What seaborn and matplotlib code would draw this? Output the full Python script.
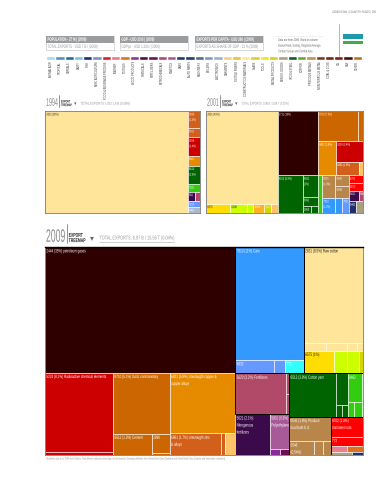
# Uzbekistan country page: export treemaps 1994 / 2001 / 2009
import matplotlib
matplotlib.use('Agg')
import matplotlib.pyplot as plt
import matplotlib.patheffects as pe
from matplotlib.patches import Rectangle
from matplotlib.transforms import Affine2D, Bbox
import pandas as pd
import seaborn as sns

sns.set_theme(style='white')
plt.rcParams['font.family'] = ['Liberation Sans', 'DejaVu Sans']

W, H = 387, 480

# colours of the product groups
DARK = '#2e0000'; YEL = '#ffe599'; GOLD = '#ffdd00'; LIME = '#ccff00'; OLV = '#d4d400'
PORG = '#ffc266'; AMB = '#ffb020'; BRN = '#cc6600'; ORG = '#e68a00'; RUST = '#d2601a'
RED = '#cc0000'; BRED = '#ff0000'; GRN = '#006400'; BGRN = '#33cc11'; TAN = '#b8864b'
BLUE = '#3399ff'; PERI = '#6699ff'; CYAN = '#33ffff'; ROSE = '#b04a68'; PUR = '#3a0a4a'
MAUV = '#a85a98'; VIO = '#8a2a9a'; PLUM = '#6a1050'; NAVY = '#20306a'; GRAY = '#a8a080'
PINK = '#e88090'; HOR = '#e07020'; LGB = '#a8b8d0'

# colour key
key_labels = ['ANIMAL AGRI', 'TROPICAL', 'CEREALS', 'DAIRY', 'FISH', 'MISC AGRICULTURE',
              'FOOD & BEVERAGE PROCESS', 'LEATHER', 'TEXTILES', 'WOOD PRODUCTS',
              'CHEMICALS', 'FERTILIZERS', 'PETROCHEMICALS', 'PLASTICS', 'CARS',
              'AUTO PARTS', 'MACHINERY', 'BOILERS', 'ELECTRONICS', 'GARMENTS',
              'TEXTILE FIBERS', 'CONSTRUCTION MATERIALS', 'GLASS', 'TOOLS', 'METAL PRODUCTS',
              'MINING GOODS', 'IRON & STEEL', 'COPPER', 'PRECIOUS METALS', 'NON-FERROUS METAL',
              'COAL & COKE', 'OIL', 'GAS', 'OTHER']
key_colors = ['#a8d8e8', '#5590c0', '#1a70a0', '#7fc4d8', '#1f2a78', '#7a90c8', '#d02030',
              '#e87888', '#e07020', '#8a3a8a', '#4a1048', '#6a1050', '#b04a6a', '#a85a98',
              '#203a70', '#203a70', '#586888', '#8890c8', '#98b0c8', '#f8d070', '#f0c030',
              '#fde59a', '#d8d030', '#f8e020', '#d0d020', '#a8a080', '#0a5a30', '#60a830',
              '#c09050', '#704020', '#802010', '#7a2018', '#401010', '#c07020']
key_values = [1] * len(key_labels)

# 1994
labels_1994 = ['2631 (92%)', '2630\n(1.3%)', '0511', '2816\n(1.4%)', '6821', '6513\n(1.5%)', '7821',
               '562', '', '7810', '8462']
values_1994 = [92, 1.33, .73, 1.44, .78, 1.46, .58, .42, .31, .47, .47]
colors_1994 = [YEL, RUST, RUST, RED, ORG, GRN, BGRN, PUR, ROSE, PERI, LGB]
tree_1994 = ('h', [0, ('v', [1, 2, 3, 4, 5, 6, ('h', [7, 8]), 9, 10])])

# 2001
labels_2001 = ['2631 (41%)', '6575', '5288', '', '8993', '1212', '', '2711 (16%)',
               '9710 (7.5%)', '', '6821 (3.8%)', '5224 (3.4%)', '6861 (1.9%)', '',
               '6513 (5.9%)', '6531\n(2%)', '6592', '2850', '', '',
               '0575\n(1.9%)', '0545', '0548', '7810\n(1.2%)', '', '7821',
               '6702', '0573', '5621', '5801', '8462', '']
values_2001 = [41.4, 1.4, .97, .39, .62, .41, .37, 16.2,
               7.5, 1.0, 3.83, 3.44, 1.94, .37,
               5.89, 2.03, .88, .35, .28, 1.02,
               1.89, .92, .97, 1.25, .62, .63,
               .72, .65, .67, .29, .56, .49]
colors_2001 = [YEL, GOLD, LIME, LIME, AMB, OLV, PORG, DARK,
               BRN, BRN, ORG, RED, RUST, PORG,
               GRN, GRN, GRN, GRN, GRN, BGRN,
               TAN, TAN, TAN, BLUE, BLUE, PERI,
               BRED, BRED, PUR, ROSE, NAVY, GRAY]
tree_2001 = ('h', [
    ('v', [0, ('h', [1, 2, 3, 4, 5, 6])]),
    ('v', [
        ('h', [7, ('v', [('h', [8, 9]),
                         ('h', [10, ('v', [11, ('h', [12, 13])])])])]),
        ('h', [('h', [14, ('v', [15, 16, ('h', [17, 18])]), 19]),
               ('h', [('v', [('h', [20, ('v', [21, 22])]), ('h', [23, 24, 25])]),
                      ('v', [26, 27, ('h', [28, 29]), ('h', [30, 31])])])]),
    ]),
])

# 2009
labels_2009 = ['2444 (35%) petroleum gases',
               '5224 (8.1%) Radioactive chemical elements', '',
               '9710 (5.1%) Gold, nonmonetary', '6612 (1.3%) Cement', '2890', '',
               '6821 (5.9%) Unwrought copper &\ncopper alloys', '6861 (1.7%) Unwrought zinc\n& alloys', '', '',
               '7810 (11%) Cars', '6932', '', '771',
               '2631 (8.5%) Raw cotton', '', '', '', '',
               '6575 (1%)', '', '', '',
               '5620 (3.2%) Fertilizers', '', '', '5621 (2.1%)\nNitrogenous\nfertilizers',
               '5801 (0.9%)\nPolyethylene', '', '',
               '6513 (3.8%) Cotton yarn', '', '', '', '8462', '', '',
               '0545 (1.8%) Produce\nfood both E.S.', '0548\n(0.54%)', '', '',
               '6702 (1.8%)\nIron/steel rods', '773', '', '', '', '']
values_2009 = [35.4,
               8.0, .3,
               5.1, 1.23, .52, .05,
               5.9, 1.63, .13, .33,
               11.47, .78, .22, .37,
               8.37, .23, .23, .1, .06,
               1.03, .42, .41, .13,
               3.05, .1, .1, 2.1, 1.0, .08, .08,
               3.0, .55, .1, .1, .62, .13, .2,
               1.5, .5, .2, .15,
               .95, .45, .13, .13, .1, .05]
colors_2009 = [DARK,
               RED, RED,
               BRN, BRN, BRN, BRN,
               ORG, RUST, RUST, PORG,
               BLUE, PERI, PERI, CYAN,
               YEL, YEL, YEL, YEL, YEL,
               GOLD, LIME, LIME, OLV,
               ROSE, ROSE, ROSE, PUR, MAUV, VIO, PLUM,
               GRN, GRN, GRN, GRN, BGRN, BGRN, BGRN,
               TAN, TAN, TAN, TAN,
               BRED, BRED, PINK, HOR, GRAY, NAVY]
tree_2009 = ('h', [
    ('v', [0, ('h', [('v', [1, 2]),
                     ('v', [3, ('h', [4, ('v', [5, 6])])]),
                     ('v', [7, ('h', [8, 9, 10])])])]),
    ('v', [
        ('h', [('vb', [11, ('h', [12, 13, 14])]),
               ('vb', [15, ('h', [16, 17, 18, 19]), ('h', [20, 21, 22, 23])])]),
        ('h', [('v', [('hb', [24, ('v', [25, 26])]),
                      ('h', [27, ('v', [28, ('h', [29, 30])])])]),
               ('v', [('hb', [31, ('v', [32, ('h', [33, 34])]), ('v', [35, ('h', [36, 37])])]),
                      ('h', [('vb', [38, ('h', [39, 40, 41])]),
                             ('vb', [42, 43, ('h', [44, 45]), ('h', [46, 47])])])])]),
    ]),
])

header_top = ['POPULATION - 27 M | (2009)', 'GDP - USD 33 B | (2009)', 'EXPORTS PER CAPITA - USD 260 | (2009)']
header_low = ['TOTAL EXPORTS - USD 7 B / (2009)', 'GDPpc - USD 1,200 / (2009)', 'EXPORTS AS SHARE OF GDP - 21 % (2009)']
map_years = ['1994', '2001', '2009']
map_totals = ['TOTAL EXPORTS: USD 1.6 B (0.58%)', 'TOTAL EXPORTS: 0.98 B / 5.88 T (0.02%)',
              'TOTAL EXPORTS: 6.97 B / 15.56 T (0.04%)']


class Squeeze(pe.AbstractPathEffect):
    # the page uses a condensed face, none is installed so narrow the glyphs
    def __init__(self, sx):
        super().__init__()
        self.sx = sx

    def draw_path(self, renderer, gc, tpath, affine, rgbFace=None):
        renderer.draw_path(gc, tpath, Affine2D().scale(self.sx, 1) + affine, rgbFace)


def narrow(t, sx):
    # left aligned texts only, keeps the reported extent the same as what is drawn
    t.set_path_effects([Squeeze(sx)])
    full_extent = t.get_window_extent

    def extent(renderer=None, dpi=None):
        b = full_extent(renderer, dpi)
        return Bbox.from_extents(b.x0, b.y0, b.x0 + b.width * sx, b.y1)
    t.get_window_extent = extent
    return t


def node_sum(node, values):
    if isinstance(node, int):
        return values[node]
    return sum(node_sum(k, values) for k in node[1])


def layout(node, box, values, cells, boxes):
    # slice and dice, sizes come from the values only
    if isinstance(node, int):
        cells[node] = box
        return
    x, y, w, h = box
    total = node_sum(node, values)
    pos = 0
    for kid in node[1]:
        share = node_sum(kid, values) / total
        if node[0][0] == 'h':
            layout(kid, (x + pos * w, y, share * w, h), values, cells, boxes)
        else:
            layout(kid, (x, y + pos * h, w, share * h), values, cells, boxes)
        pos += share
    if node[0].endswith('b'):
        boxes.append(box)


def treemap(fig, rect, tree, values, labels, colors, size=3.0):
    left, top, right, bottom = rect
    ax = fig.add_axes([left / W, 1 - bottom / H, (right - left) / W, (bottom - top) / H])
    cells, boxes = {}, []
    layout(tree, (0, 0, 1, 1), values, cells, boxes)
    for i in range(len(values)):
        x, y, w, h = cells[i]
        ax.barh(y, w, height=h, left=x, align='edge', color=colors[i], edgecolor='white', linewidth=0.4)
        if labels[i]:
            dark_text = colors[i] in (YEL, GOLD, LIME)
            t = ax.annotate(labels[i], (x, y), xytext=(1.0, -1.0), textcoords='offset points',
                            fontsize=size, va='top', ha='left', linespacing=1.5,
                            color='#222222' if dark_text else 'white')
            narrow(t, 0.65)
    for x, y, w, h in boxes:
        ax.add_patch(Rectangle((x, y), w, h, fill=False, edgecolor='black', linewidth=0.7, zorder=5))
    ax.set_xlim(0, 1)
    ax.set_ylim(1, 0)
    ax.set_xticks([])
    ax.set_yticks([])
    for s in ax.spines.values():
        s.set_edgecolor('#777777')
        s.set_linewidth(0.6)
    return ax


def ftext(fig, x, y, s, sx=0.65, **kw):
    return narrow(fig.text(x / W, 1 - y / H, s, **kw), sx)


def box(fig, x0, y0, x1, y1, **kw):
    fig.add_artist(Rectangle((x0 / W, 1 - y1 / H), (x1 - x0) / W, (y1 - y0) / H,
                             transform=fig.transFigure, **kw))


def hline(fig, x0, x1, y, **kw):
    fig.add_artist(plt.Line2D([x0 / W, x1 / W], [1 - y / H, 1 - y / H], transform=fig.transFigure, **kw))


def vline(fig, x, y0, y1, **kw):
    fig.add_artist(plt.Line2D([x / W, x / W], [1 - y0 / H, 1 - y1 / H], transform=fig.transFigure, **kw))


def map_title(fig, x, base, sep, year, total, big, word, small, sx_total, mid):
    ftext(fig, x, base, year, sx=0.48, fontsize=big, color='#8a8a8a', va='baseline', ha='left')
    vline(fig, sep, base - big * 1.4, base + 1, color='#666666', lw=0.5)
    ftext(fig, sep + 2, base - word * 1.25, 'EXPORT', sx=0.62, fontsize=word, color='#222222',
          fontweight='bold', va='baseline', ha='left')
    ftext(fig, sep + 2, base + 0.3, 'TREEMAP', sx=0.62, fontsize=word, color='#222222',
          fontweight='bold', va='baseline', ha='left')
    arrow = sep + word * 6.2
    fig.text(arrow / W, 1 - mid / H, '\u25be', fontsize=word * 1.4, color='#666666', ha='center', va='center',
             family='DejaVu Sans')
    ftext(fig, arrow + word * 2, mid, total, sx=sx_total, fontsize=small, color='#999999', va='center', ha='left')


fig = plt.figure(figsize=(W / 100, H / 100), dpi=100, facecolor='white')

ftext(fig, 332, 12, 'UZBEKISTAN | COUNTRY PAGES | 299', sx=0.7, fontsize=2.5, color='#777777', ha='left', va='center')

# header boxes
for x0, top, low in zip([46, 120, 195], header_top, header_low):
    box(fig, x0, 36, x0 + 68, 50, fc='white', ec='#bbbbbb', lw=0.4)
    box(fig, x0, 36, x0 + 68, 42.5, fc='#9a9c9e', ec='none')
    ftext(fig, x0 + 1.5, 39.3, top, sx=0.6, fontsize=3.5, color='white', fontweight='bold', va='center')
    ftext(fig, x0 + 1.5, 46.5, low, sx=0.62, fontsize=3.5, color='#999999', va='center')

hline(fig, 276, 323, 35.5, color='#bbbbbb', lw=0.4, ls=':')
ftext(fig, 278, 38, 'Data are from 2009. Rank on column\nshows Rank, Exiting, Regional Average,\nContact Group and Central Asia',
      fontsize=2.7, color='#666666', va='top', linespacing=1.55)
vline(fig, 338.5, 24, 56, color='#aaaaaa', lw=0.6)

# flag
box(fig, 343, 34, 363, 38.6, fc='#1c9aaa', ec='none')
box(fig, 343, 38.6, 363, 41.2, fc='white', ec='none')
box(fig, 343, 41.2, 363, 44, fc='#3fae49', ec='none')

# colour key, category axis holds the labels
key = pd.DataFrame({'label': key_labels, 'value': key_values})
ax_key = fig.add_axes([46 / W, 1 - 59.5 / H, 316 / W, 3.5 / H])
sns.barplot(data=key, x='label', y='value', hue='label', palette=key_colors, width=1.0,
            legend=False, ax=ax_key, saturation=1)
ax_key.set_xlim(-0.5, len(key_labels) - 0.5)
ax_key.set_ylim(0, 1)
ax_key.set_xlabel('')
ax_key.set_ylabel('')
ax_key.set_yticks([])
ax_key.tick_params(axis='x', length=0, pad=1.2)
ax_key.set_xticks(range(len(key_labels)), key_labels, rotation=90, fontsize=1.8, color='#333333')
sns.despine(ax=ax_key, left=True, bottom=True)

# treemaps
map_title(fig, 46, 105.8, 59, map_years[0], map_totals[0], 8, 2.6, 2.9, 0.72, 103.7)
map_title(fig, 207, 105.8, 220, map_years[1], map_totals[1], 8, 2.6, 2.9, 0.62, 103.7)
treemap(fig, (45, 111, 200, 213), tree_1994, values_1994, labels_1994, colors_1994, 2.6)
treemap(fig, (206, 111, 363, 213), tree_2001, values_2001, labels_2001, colors_2001, 2.6)

map_title(fig, 46, 241.8, 66.7, map_years[2], map_totals[2], 13, 4.0, 4.0, 0.69, 238)
hline(fig, 99, 174, 242.3, color='#aaaaaa', lw=0.4)
ax09 = treemap(fig, (45, 247, 362.5, 455), tree_2009, values_2009, labels_2009, colors_2009, 3.4)
ax09.spines['top'].set_edgecolor('black')
ax09.spines['top'].set_linewidth(1.0)

ftext(fig, 46, 458.5, '*Numbers add up to 2009 from Exlines. Parentheses indicate percentage of total exports. Emerging Markets from World Bank Data (Statistics and World Bank Data, Science and Innovation Indicators).',
      sx=0.68, fontsize=2.15, color='#888888', va='center')

fig.savefig('out.png', dpi=100, facecolor='white')
